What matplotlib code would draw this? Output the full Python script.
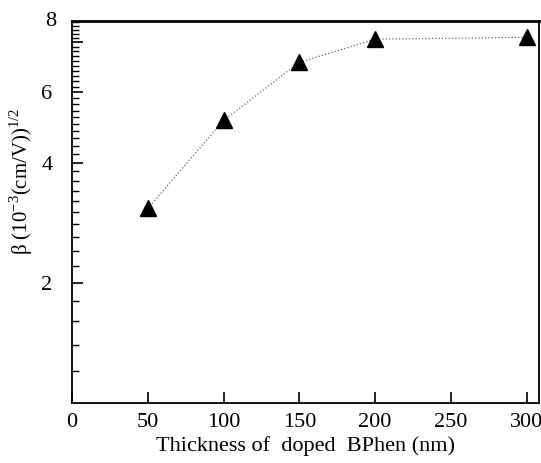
import matplotlib
matplotlib.use("Agg")
import matplotlib.pyplot as plt
from matplotlib.ticker import FixedLocator, NullFormatter, NullLocator
import numpy as np

# thickness of doped BPhen layer (nm) and field-dependence coefficient beta
thickness = [50, 100, 150, 200, 300]
beta = [3.07, 5.10, 7.13, 8.15, 8.24]

y_major = [2, 4, 6]
y_minor = np.round(np.arange(1.2, 9.01, 0.2), 1)
x_major = [0, 50, 100, 150, 200, 250, 300]

plt.rcParams["font.family"] = "Liberation Serif"
plt.rcParams["mathtext.fontset"] = "custom"
plt.rcParams["mathtext.rm"] = "Liberation Serif"

fig = plt.figure(figsize=(5.41, 4.63), dpi=100)
ax = fig.add_axes([0.133, 0.1296, 0.863, 0.825])

ax.plot(thickness, beta, linestyle=":", color="#666666", linewidth=0.9,
        marker="^", markersize=12, markerfacecolor="black",
        markeredgecolor="black", zorder=3)

ax.set_yscale("log")
ax.set_ylim(1.0, 9.05)
ax.set_xlim(0, 308)

ax.yaxis.set_major_locator(FixedLocator(y_major + [8]))
ax.yaxis.set_ticklabels(["2", "4", "6", ""])
ax.yaxis.set_minor_locator(FixedLocator(y_minor))
ax.yaxis.set_minor_formatter(NullFormatter())
# the "8" label sits at the top edge of the axis
ax.text(-0.033, 1.0, "8", transform=ax.transAxes, ha="right", va="center",
        fontsize=16)

ax.xaxis.set_major_locator(FixedLocator(x_major))
ax.xaxis.set_minor_locator(NullLocator())

ax.tick_params(axis="both", which="major", direction="in", length=8,
               width=1.2, labelsize=16)
ax.tick_params(axis="y", which="major", pad=14)
ax.tick_params(axis="x", which="major", pad=7)
ax.tick_params(axis="y", which="minor", direction="in", length=5, width=1.0)
ax.tick_params(top=False, right=False)

for side in ["left", "bottom", "right"]:
    ax.spines[side].set_linewidth(1.3)
ax.spines["top"].set_linewidth(2.0)

ax.set_xlabel("Thickness of  doped  BPhen (nm)", fontsize=16, labelpad=3)
ax.set_ylabel(r"β (10$^{\mathregular{-3}}$(cm/V))$^{\mathregular{1/2}}$",
              fontsize=15)
ax.yaxis.set_label_coords(-0.08, 0.58)

fig.savefig("out.png", dpi=100)
